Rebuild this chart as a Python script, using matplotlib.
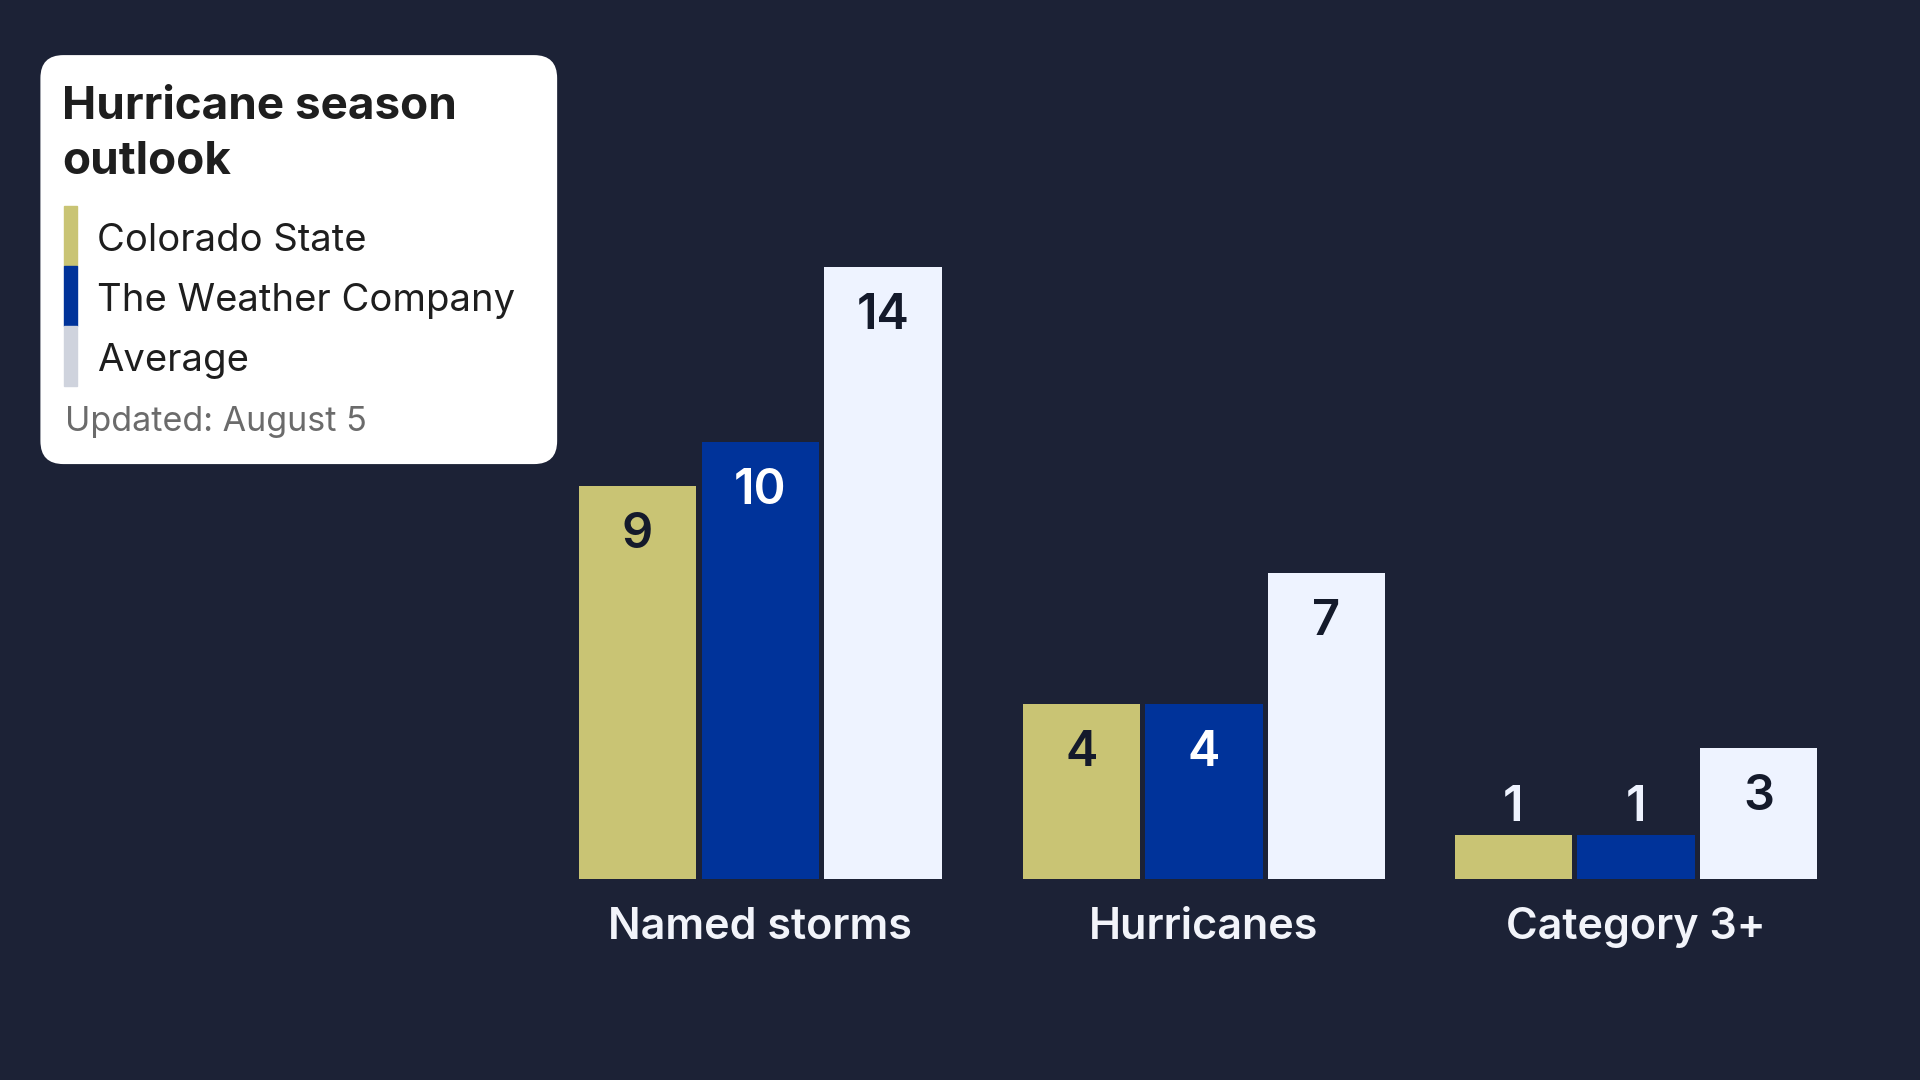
import matplotlib.pyplot as plt
from matplotlib.patches import FancyBboxPatch, Rectangle
import numpy as np

plt.rcParams['font.family'] = ['Inter', 'DejaVu Sans']

categories = ["Named storms", "Hurricanes", "Category 3+"]
series_names = ["Colorado State", "The Weather Company", "Average"]
colorado = [9, 4, 1]
weather_co = [10, 4, 1]
average = [14, 7, 3]

colors = ["#c9c474", "#00339a", "#eef3ff"]
label_colors = ["#141a2b", "#ffffff", "#141a2b"]
swatch_colors = ["#c9c474", "#00339a", "#cfd3dd"]
bg = "#1c2236"

W, H = 1568, 882  # reference pixel frame used for layout
fig = plt.figure(figsize=(19.2, 10.8), dpi=100)
fig.patch.set_facecolor(bg)

ax = fig.add_axes([442 / W, 164 / H, (1515 - 442) / W, 0.6])
ax.set_facecolor("none")
ax.set_xlim(-0.5, 2.5)
ax.set_ylim(0, 0.6 * H / 35.7)
for s in ax.spines.values():
    s.set_visible(False)
ax.set_yticks([])

x = np.array([0, 1.013, 2.0])
ax.set_xticks(x)
ax.set_xticklabels(categories, color="#f2f4fa", fontsize=31, fontweight="semibold")
ax.tick_params(axis="x", length=0, pad=20)

width = 0.268
off = 40 / 35.7  # label offset in data units (~40 ref px)
for i, vals in enumerate([colorado, weather_co, average]):
    bars = ax.bar(x + (i - 1) * 0.28, vals, width, color=colors[i])
    for b, v in zip(bars, vals):
        cx = b.get_x() + b.get_width() / 2
        if v >= 2:
            ax.text(cx, v - off, str(v), ha="center", va="center",
                    fontsize=35, fontweight="semibold", color=label_colors[i])
        else:
            ax.text(cx, v + 0.62, str(v), ha="center", va="center",
                    fontsize=35, fontweight="semibold", color="#eef3ff")

# legend card
lx, ly, lw, lh = 33 / W, 1 - 379 / H, (455 - 33) / W, (379 - 45) / H
card = FancyBboxPatch((lx, ly), lw, lh, boxstyle="round,pad=0,rounding_size=0.012",
                      transform=fig.transFigure, facecolor="white", edgecolor="none",
                      mutation_aspect=W / H)
fig.patches.append(card)
fig.text(51 / W, 1 - 87 / H, "Hurricane season", fontsize=33, fontweight="bold",
         color="#1e1e1e", va="center")
fig.text(51 / W, 1 - 132 / H, "outlook", fontsize=33, fontweight="bold",
         color="#1e1e1e", va="center")
for i, name in enumerate(series_names):
    top = 168 + i * 49
    fig.patches.append(Rectangle((52 / W, 1 - (top + 49) / H), 11 / W, 49 / H,
                                 transform=fig.transFigure, color=swatch_colors[i]))
    fig.text(79 / W, 1 - (top + 29) / H, name, fontsize=27.5, color="#1e1e1e", va="center")
fig.text(53 / W, 1 - 345 / H, "Updated: August 5", fontsize=24.5, color="#6b6b6b", va="center")

fig.savefig("out.png", facecolor=bg)
